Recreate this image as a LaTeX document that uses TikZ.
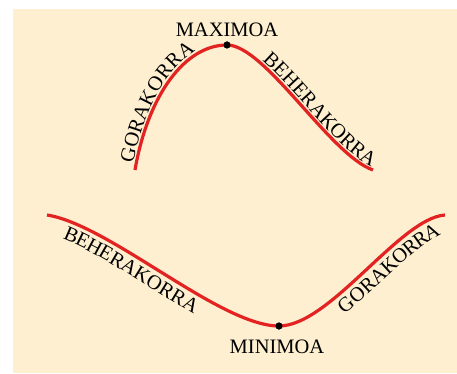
\documentclass[tikz,border=0pt]{standalone}
\usepackage{fontspec}
\setmainfont{Liberation Serif}
\usepackage{tikz}
\usetikzlibrary{decorations.text, positioning, calc}

\definecolor{paper}{HTML}{FDEFD0}
\definecolor{curvered}{HTML}{E32322}
\newcommand{\lblfont}{\fontsize{20.5}{20.5}\selectfont}

\tikzset{
  curve/.style={curvered, line width=3.2pt},
  dot/.style={circle, fill=black, inner sep=0pt, minimum size=7pt},
  tag/.style={font=\lblfont, inner sep=0pt},
  along/.style 2 args={decorate, decoration={text along path,
      text={|\lblfont|#1}, text align={left indent=#2}}},
}

\begin{document}
\begin{tikzpicture}[x=1pt, y=-1pt]
  \useasboundingbox (0,0) rectangle (457,374);
  \fill[paper] (13,9) rectangle (457,373);

  % upper curve
  \coordinate (ustart) at (135,170);
  \coordinate (uend) at (373,170);
  \node[dot] (maxdot) at (227,45) {};
  \draw[curve] (ustart) .. controls (148,95) and (185,45) .. (maxdot.center)
    .. controls (265,45) and (330,155) .. (uend);
  \node[tag, anchor=base] (maxlbl) at (227,37) {MAXIMOA};
  \path[along={GORAKORRA}{6pt}, decoration={raise=3pt}]
    (ustart) .. controls (148,95) and (185,45) .. (maxdot.center);
  \path[along={BEHERAKORRA}{38pt}, decoration={raise=3pt}]
    (maxdot.center) .. controls (265,45) and (330,155) .. (uend);

  % lower curve
  \coordinate (lstart) at (47,215);
  \coordinate (lend) at (445,215);
  \node[dot] (mindot) at (279,326) {};
  \draw[curve] (lstart) .. controls (110,225) and (220,326) .. (mindot.center)
    .. controls (330,326) and (400,218) .. (lend);
  \node[tag, anchor=base] (minlbl) at (277,353) {MINIMOA};
  \path[along={BEHERAKORRA}{24pt}, decoration={raise=-19pt}]
    (lstart) .. controls (110,225) and (220,326) .. (mindot.center);
  \path[along={GORAKORRA}{60pt}, decoration={raise=-19pt}]
    (mindot.center) .. controls (330,326) and (400,218) .. (lend);
  \node[dot] at (maxdot) {};
  \node[dot] at (mindot) {};
\end{tikzpicture}
\end{document}
